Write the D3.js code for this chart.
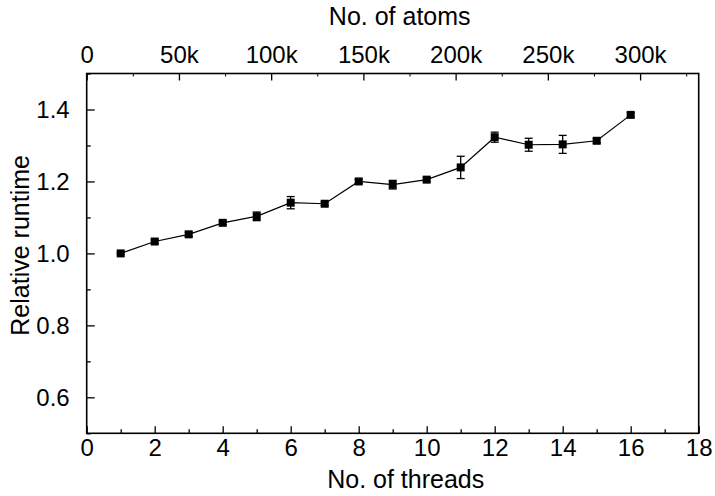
<!DOCTYPE html>
<html><head><meta charset="utf-8">
<script src="https://cdn.jsdelivr.net/npm/d3@7"></script>
<style>
html,body{margin:0;padding:0;background:#fff;}
svg text{font-family:"Liberation Sans",Arial,sans-serif;fill:#000;}
</style></head>
<body><svg id="c" width="715" height="496"></svg>
<script>
const threads = [1,2,3,4,5,6,7,8,9,10,11,12,13,14,15,16];
const runtime = [1.000,1.033,1.053,1.085,1.103,1.141,1.138,1.200,1.191,1.205,1.239,1.323,1.302,1.303,1.313,1.385];
const errs    = [0.003,0.005,0.006,0.005,0.012,0.017,0.005,0.006,0.012,0.006,0.031,0.014,0.018,0.025,0.006,0.006];
const xTicks = [0,2,4,6,8,10,12,14,16,18];
const xMinor = [1,3,5,7,9,11,13,15,17];
const yTicks = [0.6,0.8,1.0,1.2,1.4];
const yMinor = [0.5,0.7,0.9,1.1,1.3,1.5];
const atomTicks = [0,50000,100000,150000,200000,250000,300000];
const atomMinor = [25000,75000,125000,175000,225000,275000,325000];
const atomsPerThread = 18432;

const svg = d3.select("#c");
const L=86.7, R=698.7, T=73.5, B=433.3;
const x = d3.scaleLinear().domain([0,18]).range([L,R]);
const xa = d3.scaleLinear().domain([0,18*atomsPerThread]).range([L,R]);
const y = d3.scaleLinear().domain([0.5,1.5]).range([B,T]);
const FS = 24;

const g = svg.append("g");
g.append("rect").attr("x",L).attr("y",T).attr("width",R-L).attr("height",B-T)
 .attr("fill","none").attr("stroke","#000").attr("stroke-width",1.6);

// bottom axis
const bx = d3.axisBottom(x).tickValues(xTicks).tickSize(-7).tickPadding(6).tickFormat(d3.format("d"));
const gb = g.append("g").attr("transform",`translate(0,${B})`).call(bx);
gb.select(".domain").remove();
gb.selectAll("text").attr("font-size",FS).attr("dy","0.71em");
gb.selectAll("line").attr("stroke-width",1.3);
g.append("g").attr("transform",`translate(0,${B})`)
 .call(d3.axisBottom(x).tickValues(xMinor).tickSize(-4).tickFormat(""))
 .call(s=>{s.select(".domain").remove(); s.selectAll("line").attr("stroke-width",1.3);});

// top axis (atoms)
const ta = d3.axisTop(xa).tickValues(atomTicks).tickSize(-7).tickPadding(11)
  .tickFormat(d=> d===0 ? "0" : (d/1000)+"k");
const gt = g.append("g").attr("transform",`translate(0,${T})`).call(ta);
gt.select(".domain").remove();
gt.selectAll("text").attr("font-size",FS);
gt.selectAll("line").attr("stroke-width",1.3);
g.append("g").attr("transform",`translate(0,${T})`)
 .call(d3.axisTop(xa).tickValues(atomMinor.filter(v=>v<18*atomsPerThread)).tickSize(-3).tickFormat(""))
 .call(s=>{s.select(".domain").remove(); s.selectAll("line").attr("stroke-width",1);});

// left axis
const ly = d3.axisLeft(y).tickValues(yTicks).tickSize(-8).tickPadding(17).tickFormat(d3.format(".1f"));
const gl = g.append("g").attr("transform",`translate(${L},0)`).call(ly);
gl.select(".domain").remove();
gl.selectAll("text").attr("font-size",FS);
gl.selectAll("line").attr("stroke-width",1.3);
g.append("g").attr("transform",`translate(${L},0)`)
 .call(d3.axisLeft(y).tickValues(yMinor).tickSize(-4).tickFormat(""))
 .call(s=>{s.select(".domain").remove(); s.selectAll("line").attr("stroke-width",1.3);});

// titles
svg.append("text").attr("x",(L+R)/2+13).attr("y",488).attr("text-anchor","middle")
 .attr("font-size",FS+1).text("No. of threads");
svg.append("text").attr("x",(L+R)/2+7).attr("y",25).attr("text-anchor","middle")
 .attr("font-size",FS+1).text("No. of atoms");
svg.append("text").attr("transform",`translate(29,${(T+B)/2-8}) rotate(-90)`).attr("text-anchor","middle")
 .attr("font-size",FS+1).text("Relative runtime");

// data
const data = threads.map((t,i)=>({t, v:runtime[i], e:errs[i]}));
g.append("path").datum(data).attr("fill","none").attr("stroke","#000").attr("stroke-width",1.2)
 .attr("d", d3.line().x(d=>x(d.t)).y(d=>y(d.v)));
const eb = g.append("g").attr("stroke","#000").attr("stroke-width",1.3);
data.forEach(d=>{
  const cx=x(d.t), y1=y(d.v+d.e), y2=y(d.v-d.e);
  eb.append("line").attr("x1",cx).attr("x2",cx).attr("y1",y1).attr("y2",y2);
  eb.append("line").attr("x1",cx-4).attr("x2",cx+4).attr("y1",y1).attr("y2",y1);
  eb.append("line").attr("x1",cx-4).attr("x2",cx+4).attr("y1",y2).attr("y2",y2);
});
g.append("g").selectAll("rect").data(data).join("rect")
 .attr("x",d=>x(d.t)-4).attr("y",d=>y(d.v)-4).attr("width",8).attr("height",8).attr("fill","#000");
</script></body></html>
